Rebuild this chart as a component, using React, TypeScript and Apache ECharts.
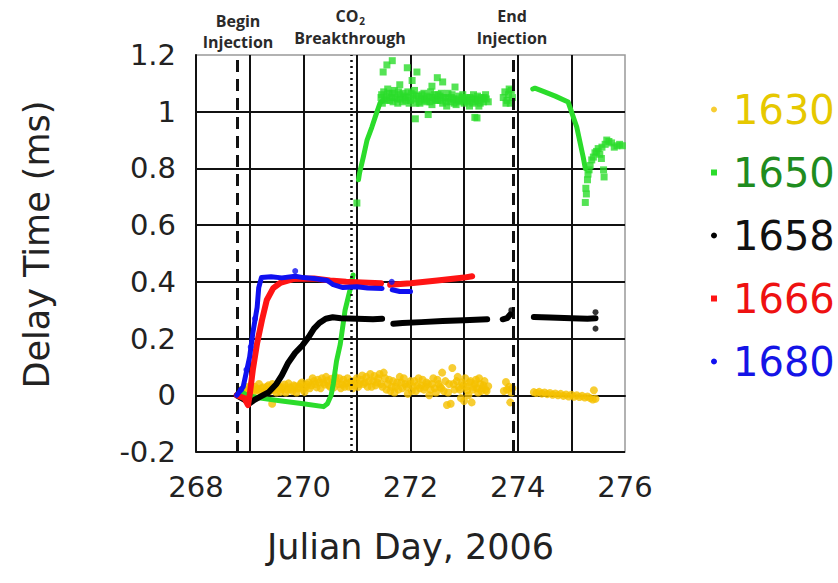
import { useEffect, useRef } from "react";
import * as echarts from "echarts";

type Pt = [number, number];

// Station names, colours and marker shapes
const stationNames = ["1630", "1650", "1658", "1666", "1680"];
const markerColors = ["#f5c000", "#2bdc2b", "#000000", "#ff1414", "#1010f0"];
const labelColors = ["#e6c800", "#1f8c1f", "#111111", "#ee1111", "#1414e6"];
const markerShapes = ["circle", "rect", "circle", "rect", "circle"];

// Event markers (Julian day)
const eventDays = [268.76, 270.89, 273.91];

// Axis ranges
const xMin = 268;
const xMax = 276;
const yMin = -0.2;
const yMax = 1.2;

// ---- 1630 (scattered readings) ----
const s1630Dots: Pt[] = [
  [268.8, 0.005], [268.85, 0.012], [268.9, 0.02], [268.95, 0.015], [269.0, 0.025],
  [269.05, 0.018], [269.1, 0.03], [269.15, 0.022], [269.2, 0.012], [269.25, 0.028],
  [269.3, 0.02], [269.35, 0.035], [269.4, 0.018], [269.42, -0.03], [269.45, 0.026],
  [269.5, 0.01], [269.55, 0.03], [269.6, 0.022], [269.65, 0.038], [269.7, 0.02],
  [269.75, 0.028], [269.8, 0.015], [269.85, 0.032], [269.9, 0.024], [269.95, 0.04],
  [270.0, 0.02], [270.05, 0.03], [270.1, 0.045], [270.15, 0.035], [270.2, 0.05],
  [270.25, 0.028], [270.3, 0.045], [270.35, 0.06], [270.4, 0.038], [270.45, 0.052],
  [270.5, 0.03], [270.55, 0.045], [270.6, 0.065], [270.65, 0.04], [270.7, 0.025],
  [270.75, 0.055], [270.8, 0.042], [270.85, 0.03], [270.9, 0.05], [270.95, 0.035],
  [271.0, 0.06], [271.05, 0.04], [271.1, 0.07], [271.15, 0.045], [271.2, 0.03],
  [271.25, 0.075], [271.3, 0.05], [271.35, 0.035], [271.4, 0.06], [271.45, 0.04],
  [271.5, 0.08], [271.55, 0.02], [271.6, 0.055], [271.65, 0.03], [271.7, 0.01],
  [271.75, 0.045], [271.8, 0.065], [271.85, 0.025], [271.9, 0.04], [271.95, 0.005],
  [272.0, 0.05], [272.05, 0.03], [272.1, 0.015], [272.15, 0.06], [272.2, 0.035],
  [272.25, 0.02], [272.3, 0.045], [272.35, 0.0], [272.4, 0.04], [272.45, 0.025],
  [272.5, 0.055], [272.55, 0.03], [272.59, 0.08], [272.62, 0.015], [272.68, -0.034],
  [272.72, 0.04], [272.75, -0.03], [272.78, 0.096], [272.82, 0.02], [272.86, 0.05],
  [272.9, 0.028], [272.94, -0.01], [272.98, 0.035], [273.0, -0.02], [273.02, 0.06],
  [273.06, 0.018], [273.1, 0.045], [273.14, -0.025], [273.18, 0.03], [273.22, 0.055],
  [273.26, 0.01], [273.3, 0.04], [273.34, 0.025], [273.38, 0.05], [273.42, 0.015],
  [273.45, 0.032],
  [268.825, 0.018], [268.875, 0.008], [268.925, 0.03], [268.975, 0.01], [269.025, 0.035],
  [269.075, 0.012], [269.125, 0.02], [269.175, 0.04], [269.225, 0.025], [269.275, 0.005],
  [269.325, 0.03], [269.375, 0.015], [269.425, 0.04], [269.475, 0.02], [269.525, 0.035],
  [269.575, 0.012], [269.625, 0.028], [269.675, 0.01], [269.725, 0.042], [269.775, 0.022],
  [269.825, 0.035], [269.875, 0.01], [269.925, 0.03], [269.975, 0.045], [270.025, 0.012],
  [270.075, 0.038], [270.125, 0.025], [270.175, 0.06], [270.225, 0.04], [270.275, 0.055],
  [270.325, 0.025], [270.375, 0.045], [270.425, 0.065], [270.475, 0.035], [270.525, 0.058],
  [270.575, 0.028], [270.625, 0.05], [270.675, 0.06], [270.725, 0.038], [270.775, 0.03],
  [270.825, 0.06], [270.875, 0.045], [270.925, 0.025], [270.975, 0.05], [271.025, 0.03],
  [271.075, 0.055], [271.125, 0.04], [271.175, 0.065], [271.225, 0.05], [271.275, 0.03],
  [271.325, 0.068], [271.375, 0.045], [271.425, 0.075], [271.475, 0.03], [271.525, 0.06],
  [271.575, 0.04], [271.625, 0.015], [271.675, 0.05], [271.725, 0.03], [271.775, 0.02],
  [271.825, 0.045], [271.875, 0.06], [271.925, 0.03], [271.975, 0.04], [272.025, 0.015],
  [272.075, 0.05], [272.125, 0.035], [272.175, 0.025], [272.225, 0.055], [272.275, 0.03],
  [272.325, 0.04], [272.375, 0.02], [272.425, 0.06], [272.475, 0.01], [272.525, 0.04],
  [272.575, 0.025], [272.65, 0.05], [272.7, 0.01], [272.8, 0.04], [272.88, 0.065],
  [272.92, 0.02], [272.96, 0.045], [273.04, 0.03], [273.08, 0.0], [273.12, 0.05],
  [273.16, 0.02], [273.2, 0.04], [273.24, 0.025], [273.28, 0.06], [273.32, 0.015],
  [273.36, 0.035], [273.4, 0.02],
  [273.74, 0.015], [273.78, 0.047], [273.8, 0.02], [273.84, 0.03], [273.86, -0.025],
  [273.88, 0.01], [273.9, 0.025],
  [274.3, 0.011], [274.35, 0.008], [274.4, 0.012], [274.45, 0.006], [274.5, 0.01],
  [274.55, 0.004], [274.6, 0.008], [274.65, 0.002], [274.7, 0.006], [274.75, 0.0],
  [274.8, 0.005], [274.85, -0.002], [274.9, 0.003], [274.95, -0.004], [275.0, 0.002],
  [275.05, -0.005], [275.1, 0.0], [275.15, -0.006], [275.2, -0.002], [275.25, -0.008],
  [275.3, -0.004], [275.35, -0.01], [275.4, -0.015], [275.42, 0.018], [275.45, -0.012],
];

// ---- 1650 ----
const s1650Early: Pt[] = [
  [268.76, 0.0], [268.85, 0.012], [268.95, 0.0], [269.2, -0.01], [269.6, -0.02],
  [270.0, -0.03], [270.38, -0.04], [270.45, -0.03], [270.52, 0.0], [270.56, 0.04],
  [270.62, 0.12], [270.69, 0.18], [270.78, 0.3], [270.87, 0.37], [270.93, 0.424],
];
const s1650Rise: Pt[] = [
  [271.03, 0.76], [271.05, 0.784], [271.12, 0.84], [271.19, 0.9], [271.28, 0.946],
  [271.34, 0.98], [271.43, 1.03], [271.49, 1.04],
];
const s1650Late: Pt[] = [
  [274.28, 1.08], [274.32, 1.083], [274.5, 1.07], [274.7, 1.055], [274.94, 1.034],
  [275.1, 0.946], [275.22, 0.84], [275.26, 0.8],
];
const s1650Dots: Pt[] = [
  [271.0, 0.678],
  // plateau
  [271.45, 1.05], [271.5, 1.07], [271.55, 1.04], [271.6, 1.065], [271.65, 1.05],
  [271.7, 1.075], [271.75, 1.045], [271.8, 1.06], [271.85, 1.035], [271.9, 1.055],
  [271.95, 1.07], [272.0, 1.04], [272.05, 1.06], [272.1, 1.03], [272.15, 1.055],
  [272.2, 1.045], [272.25, 1.065], [272.3, 1.035], [272.35, 1.05], [272.4, 1.025],
  [272.45, 1.06], [272.5, 1.04], [272.55, 1.055], [272.6, 1.03], [272.65, 1.05],
  [272.7, 1.065], [272.75, 1.035], [272.8, 1.045], [272.85, 1.025], [272.9, 1.055],
  [272.95, 1.04], [273.0, 1.03], [273.05, 1.05], [273.1, 1.02], [273.15, 1.045],
  [273.2, 1.035], [273.25, 1.055], [273.3, 1.03], [273.35, 1.045], [273.4, 1.06],
  [273.45, 1.035],
  [271.475, 1.03], [271.575, 1.08], [271.675, 1.035], [271.775, 1.07], [271.875, 1.05],
  [271.975, 1.03], [272.075, 1.075], [272.175, 1.03], [272.275, 1.045], [272.375, 1.07],
  [272.475, 1.04], [272.575, 1.065], [272.675, 1.02], [272.775, 1.06], [272.875, 1.04],
  [272.975, 1.06], [273.075, 1.04], [273.175, 1.06], [273.275, 1.02], [273.375, 1.05],
  [271.4625, 1.06], [271.5125, 1.045], [271.5625, 1.055], [271.6125, 1.04], [271.6625, 1.065],
  [271.7125, 1.05], [271.7625, 1.03], [271.8125, 1.045], [271.8625, 1.065], [271.9125, 1.04],
  [271.9625, 1.05], [272.0125, 1.065], [272.0625, 1.045], [272.1125, 1.055], [272.1625, 1.035],
  [272.2125, 1.06], [272.2625, 1.04], [272.3125, 1.055], [272.3625, 1.035], [272.4125, 1.05],
  [272.4625, 1.045], [272.5125, 1.06], [272.5625, 1.04], [272.6125, 1.05], [272.6625, 1.035],
  [272.7125, 1.045], [272.7625, 1.05], [272.8125, 1.03], [272.8625, 1.045], [272.9125, 1.035],
  [272.9625, 1.05], [273.0125, 1.045], [273.0625, 1.035], [273.1125, 1.05], [273.1625, 1.03],
  [273.2125, 1.045], [273.2625, 1.04], [273.3125, 1.05], [273.3625, 1.035], [273.4125, 1.045],
  [271.49, 1.14], [271.56, 1.165], [271.66, 1.18], [271.94, 1.155], [272.03, 1.11],
  [272.12, 1.14], [272.09, 0.975], [272.33, 0.99], [272.5, 1.12], [272.6, 1.105],
  [272.83, 1.087], [273.2, 0.98], [273.24, 0.978], [272.4, 1.09], [271.8, 1.095],
  // short run before shut-in
  [273.73, 1.05], [273.76, 1.07], [273.8, 1.04], [273.83, 1.06], [273.86, 1.03],
  [273.88, 1.075], [273.9, 1.05], [273.78, 1.03], [273.84, 1.08],
  // recovery after the drop
  [275.26, 0.68], [275.28, 0.71], [275.3, 0.76], [275.33, 0.795], [275.38, 0.83],
  [275.44, 0.855], [275.5, 0.87], [275.56, 0.835], [275.57, 0.875], [275.6, 0.795],
  [275.61, 0.77], [275.66, 0.9], [275.75, 0.89], [275.85, 0.88], [275.95, 0.88],
  [275.27, 0.73], [275.31, 0.78], [275.35, 0.81], [275.41, 0.84], [275.47, 0.86],
  [275.53, 0.85], [275.63, 0.885], [275.7, 0.895], [275.8, 0.875], [275.9, 0.885],
];

// ---- 1658 ----
const s1658Seg1: Pt[] = [
  [268.76, 0.0], [268.9, -0.015], [269.0, -0.028], [269.1, -0.015], [269.2, -0.005],
  [269.35, 0.01], [269.5, 0.04], [269.6, 0.07], [269.72, 0.115], [269.85, 0.15],
  [269.98, 0.175], [270.1, 0.205], [270.2, 0.235], [270.3, 0.255], [270.42, 0.27],
  [270.55, 0.275], [270.7, 0.272], [271.0, 0.27], [271.3, 0.268], [271.47, 0.27],
];
const s1658Seg2: Pt[] = [
  [271.68, 0.252], [271.85, 0.255], [272.2, 0.258], [272.6, 0.262], [273.0, 0.265],
  [273.43, 0.268],
];
const s1658Seg3: Pt[] = [[273.72, 0.268], [273.8, 0.272], [273.86, 0.285]];
const s1658Seg4: Pt[] = [
  [274.3, 0.276], [274.6, 0.274], [275.0, 0.272], [275.3, 0.27], [275.45, 0.272],
];
const s1658Dots: Pt[] = [[273.88, 0.3], [275.45, 0.293], [275.45, 0.235]];

// ---- 1666 ----
const s1666Seg1: Pt[] = [
  [268.76, 0.0], [268.9, -0.01], [268.97, -0.035], [269.0, 0.0], [269.06, 0.09],
  [269.14, 0.184], [269.23, 0.265], [269.32, 0.336], [269.44, 0.378], [269.57, 0.396],
  [269.81, 0.41], [270.2, 0.412], [270.5, 0.405], [270.8, 0.4], [271.1, 0.398],
  [271.45, 0.395],
];
const s1666Seg2: Pt[] = [
  [271.62, 0.39], [272.0, 0.395], [272.5, 0.405], [273.0, 0.415], [273.15, 0.42],
];

// ---- 1680 ----
const s1680Seg1: Pt[] = [
  [268.76, 0.0], [268.88, 0.03], [269.0, 0.135], [269.06, 0.22], [269.14, 0.31],
  [269.17, 0.38], [269.22, 0.415], [269.4, 0.418], [269.6, 0.414], [269.85, 0.42],
  [270.0, 0.415], [270.2, 0.412], [270.45, 0.405], [270.56, 0.39], [270.74, 0.38],
  [271.0, 0.383], [271.2, 0.378], [271.47, 0.377],
];
const s1680Seg2: Pt[] = [[271.66, 0.372], [271.8, 0.366], [272.0, 0.366]];
const s1680Dots: Pt[] = [
  [268.84, 0.02], [268.94, 0.09], [269.02, 0.17], [269.1, 0.27], [269.85, 0.438],
  [271.65, 0.4],
];

const stationLines: Pt[][][] = [
  [],
  [s1650Early, s1650Rise, s1650Late],
  [s1658Seg1, s1658Seg2, s1658Seg3, s1658Seg4],
  [s1666Seg1, s1666Seg2],
  [s1680Seg1, s1680Seg2],
];
const stationDots: Pt[][] = [s1630Dots, s1650Dots, s1658Dots, [], s1680Dots];
const dotSizes = [8, 7, 6, 6, 6];
const lineWidths = [5, 5, 6, 6, 5];

const axisFont = "'DejaVu Sans', Verdana, sans-serif";
const noteFont = "'Open Sans', 'Noto Sans', sans-serif";

export default function App() {
  const ref = useRef<HTMLDivElement>(null);

  useEffect(() => {
    if (!ref.current) return;
    const chart = echarts.init(ref.current, undefined, { renderer: "svg" });

    const series: any[] = [];
    stationNames.forEach((name, i) => {
      stationLines[i].forEach((seg) => {
        series.push({
          type: "line",
          name,
          data: seg,
          symbol: "none",
          showSymbol: false,
          z: 3 + i,
          itemStyle: { color: markerColors[i] },
          lineStyle: { color: markerColors[i], width: lineWidths[i], cap: "round", join: "round" },
        });
      });
      series.push({
        type: "scatter",
        name,
        data: stationDots[i],
        symbol: markerShapes[i],
        symbolSize: dotSizes[i],
        z: 3 + i,
        itemStyle: { color: markerColors[i] },
      });
    });

    // Injection / breakthrough markers
    series.push({
      type: "line",
      name: "events",
      data: [],
      z: 20,
      markLine: {
        silent: true,
        symbol: ["none", "none"],
        label: { show: false },
        data: [
          { xAxis: eventDays[0], lineStyle: { color: "#111", width: 3, type: [12, 7] } },
          { xAxis: eventDays[1], lineStyle: { color: "#111", width: 2.5, type: [2, 4] } },
          { xAxis: eventDays[2], lineStyle: { color: "#111", width: 3, type: [12, 7] } },
        ],
      },
    });

    chart.setOption({
      animation: false,
      backgroundColor: "#ffffff",
      grid: {
        left: 196,
        right: 213,
        top: 55,
        bottom: 131,
        show: true,
        borderColor: "#999",
        borderWidth: 1.5,
      },
      xAxis: {
        type: "value",
        min: xMin,
        max: xMax,
        interval: 1,
        name: "Julian Day, 2006",
        nameLocation: "middle",
        nameGap: 77,
        nameTextStyle: { fontFamily: axisFont, fontSize: 35, color: "#222" },
        axisLine: { show: true, lineStyle: { color: "#111", width: 2 } },
        axisTick: { show: false },
        axisLabel: {
          fontFamily: axisFont,
          fontSize: 29,
          color: "#222",
          margin: 20,
          formatter: (v: number) => (Math.round(v) % 2 === 0 ? String(Math.round(v)) : ""),
        },
        splitLine: {
          show: true,
          showMaxLine: false,
          lineStyle: { color: "#111", width: 2 },
        },
      },
      yAxis: {
        type: "value",
        min: yMin,
        max: yMax,
        interval: 0.2,
        name: "Delay Time (ms)",
        nameLocation: "middle",
        nameGap: 142,
        nameTextStyle: { fontFamily: axisFont, fontSize: 35, color: "#222", padding: [0, 0, 0, 18] },
        axisLine: { show: true, lineStyle: { color: "#111", width: 2 } },
        axisTick: { show: false },
        axisLabel: {
          fontFamily: axisFont,
          fontSize: 29,
          color: "#222",
          margin: 20,
          formatter: (v: number) => String(Math.round(v * 10) / 10),
        },
        splitLine: {
          show: true,
          showMaxLine: false,
          lineStyle: { color: "#111", width: 2 },
        },
      },
      legend: {
        orient: "vertical",
        left: 706,
        top: 84,
        itemWidth: 6,
        itemHeight: 6,
        itemGap: 22,
        selectedMode: false,
        textStyle: {
          fontFamily: axisFont,
          fontSize: 40,
          lineHeight: 41,
          padding: [0, 0, 0, 11],
        },
        data: stationNames.map((name, i) => ({
          name,
          icon: markerShapes[i],
          itemStyle: { color: markerColors[i] },
          textStyle: { color: labelColors[i] },
        })),
      },
      graphic: [
        { type: "text", x: 238, y: 21, style: { text: "Begin", fill: "#2a2a2a", font: `700 16px ${noteFont}`, textAlign: "center", textVerticalAlign: "middle" } },
        { type: "text", x: 238, y: 42, style: { text: "Injection", fill: "#2a2a2a", font: `700 16px ${noteFont}`, textAlign: "center", textVerticalAlign: "middle" } },
        { type: "text", x: 347, y: 16, style: { text: "CO", fill: "#2a2a2a", font: `700 16px ${noteFont}`, textAlign: "center", textVerticalAlign: "middle" } },
        { type: "text", x: 362, y: 21, style: { text: "2", fill: "#2a2a2a", font: `700 10px ${noteFont}`, textAlign: "center", textVerticalAlign: "middle" } },
        { type: "text", x: 350, y: 38, style: { text: "Breakthrough", fill: "#2a2a2a", font: `700 16px ${noteFont}`, textAlign: "center", textVerticalAlign: "middle" } },
        { type: "text", x: 512, y: 16, style: { text: "End", fill: "#2a2a2a", font: `700 16px ${noteFont}`, textAlign: "center", textVerticalAlign: "middle" } },
        { type: "text", x: 512, y: 38, style: { text: "Injection", fill: "#2a2a2a", font: `700 16px ${noteFont}`, textAlign: "center", textVerticalAlign: "middle" } },
      ],
      series,
    });

    return () => chart.dispose();
  }, []);

  return (
    <div
      ref={ref}
      style={{ position: "absolute", left: 0, top: 0, width: 838, height: 583, background: "#fff" }}
    />
  );
}
